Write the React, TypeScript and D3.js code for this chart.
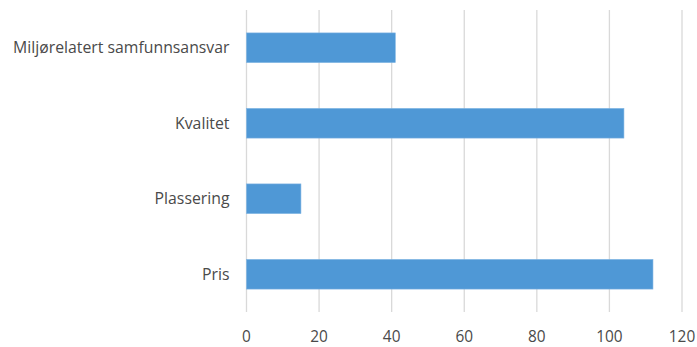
import React from "react";
import * as d3 from "d3";

const categories = ["Miljørelatert samfunnsansvar", "Kvalitet", "Plassering", "Pris"];
const values = [41, 104, 15, 112];
const xTicks = [0, 20, 40, 60, 80, 100, 120];

export default function App() {
  const W = 697, H = 347;
  const left = 246.5, right = 682, top = 10, bottom = 312;
  const x = d3.scaleLinear().domain([0, 120]).range([left, right]);
  const y = d3.scaleBand<string>().domain(categories).range([top, bottom]).paddingInner(0.607).paddingOuter(0.3035);
  const font = "'Open Sans', sans-serif";
  return (
    <svg width={W} height={H} style={{ position: "absolute", left: 0, top: 0 }}>
      <rect width={W} height={H} fill="#fff" />
      {xTicks.map((t) => (
        <line key={t} x1={x(t)} x2={x(t)} y1={top} y2={bottom} stroke="#d9d9d9" strokeWidth={1.3} />
      ))}
      {categories.map((c, i) => (
        <rect key={c} x={x(0)} y={y(c)!} width={x(values[i]) - x(0)} height={y.bandwidth()} fill="#4f98d6" stroke="#7fb4e3" strokeWidth={0.6} />
      ))}
      {categories.map((c) => (
        <text key={c} x={229.5} y={y(c)! + y.bandwidth() / 2} dy="0.35em" textAnchor="end" fontFamily={font} fontSize={15.8} fill="#4a4a4a">
          {c}
        </text>
      ))}
      {xTicks.map((t) => (
        <text key={t} x={x(t)} y={336.5} dy="0.35em" textAnchor="middle" fontFamily={font} fontSize={15.4} fill="#4a4a4a">
          {t}
        </text>
      ))}
    </svg>
  );
}
